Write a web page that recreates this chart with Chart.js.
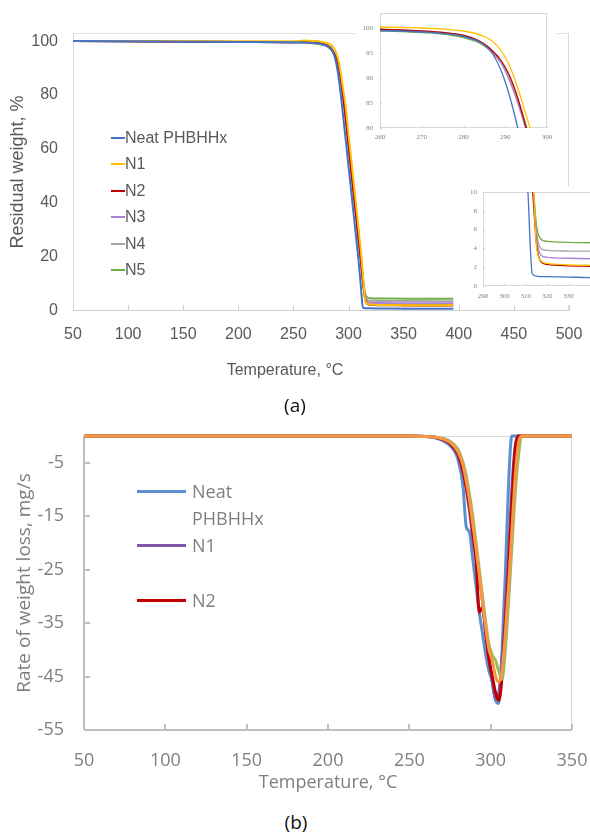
<!DOCTYPE html>
<html><head><meta charset="utf-8">
<script src="https://cdn.jsdelivr.net/npm/chart.js@4.4.1/dist/chart.umd.min.js"></script>
<style>
html,body{margin:0;padding:0;background:#fff;}
body{width:590px;height:835px;position:relative;overflow:hidden;}
canvas{position:absolute;}
.t{position:absolute;white-space:nowrap;transform:translate(-50%,-50%);}
</style></head><body>
<canvas id="cA" width="590" height="395" style="left:0px;top:0px"></canvas>
<canvas id="cI1" width="200" height="146" style="left:356px;top:0px"></canvas>
<canvas id="cI2" width="134" height="119" style="left:456px;top:186px"></canvas>
<canvas id="cB" width="590" height="380" style="left:0px;top:420px"></canvas>
<div id="legA"></div><div id="legB"></div>
<div class="t" style="left:285px;top:370px;font:16px 'Liberation Sans',Arial,sans-serif;color:#595959">Temperature, °C</div>
<div class="t" style="left:295px;top:405px;font:19px 'Open Sans',sans-serif;color:#111">(a)</div>
<div class="t" style="left:296px;top:822px;font:19px 'Open Sans',sans-serif;color:#111">(b)</div>
<script>
// ---------- (a) TGA data ----------
const tgaSeries = ['Neat PHBHHx','N1','N2','N3','N4','N5'];
const tgaTemp = [50,100,150,200,250,260,265,270,275,280,283,285,287,289,291,293,295,297,300,303,306,309,311,313,315,317,320,330,340,360,380,395];
const tgaNeat = [100,99.9,99.8,99.7,99.6,99.5,99.4,99.2,98.9,98.3,97.5,96.6,94.8,91.5,86.5,80.0,72.5,65.0,53.5,42.0,30.5,19.0,10.0,1.3,1.05,1.0,1.0,0.95,0.9,0.85,0.8,0.8];
const tgaN1   = [100,100,99.9,99.9,99.9,100.2,100.1,100.0,99.8,99.4,98.9,98.3,97.3,95.5,92.5,88.0,82.5,77.0,65.5,54.0,42.5,31.0,23.0,13.5,4.2,2.7,2.4,2.25,2.2,2.15,2.1,2.1];
const tgaN2   = [100,99.9,99.8,99.7,99.6,99.7,99.6,99.4,99.1,98.5,97.7,96.8,95.4,93.5,90.5,86.0,80.0,73.0,61.5,50.0,38.5,27.0,19.5,11.0,4.5,2.6,2.3,2.15,2.1,2.05,2.05,2.05];
const tgaN3   = [100,99.9,99.8,99.7,99.6,99.6,99.5,99.3,99.0,98.4,97.6,96.7,95.2,93.0,89.5,85.0,79.5,72.5,61.0,49.5,38.0,26.5,19.0,11.0,5.2,3.3,3.05,2.95,2.9,2.85,2.85,2.85];
const tgaN4   = [100,99.9,99.8,99.7,99.6,99.8,99.6,99.4,99.1,98.5,97.7,96.8,95.3,93.2,89.8,85.3,79.8,73.0,61.5,50.0,38.5,27.0,19.5,11.5,5.8,4.0,3.8,3.72,3.7,3.68,3.65,3.65];
const tgaN5   = [100,99.9,99.8,99.7,99.6,99.4,99.3,99.1,98.8,98.1,97.3,96.4,95.0,93.0,89.8,85.5,80.5,74.0,62.5,51.0,39.5,28.0,20.5,12.5,6.5,5.0,4.75,4.65,4.6,4.55,4.5,4.5];
const tgaXTicks = [50,100,150,200,250,300,350,400,450,500];
const tgaYTicks = [0,20,40,60,80,100];
const in1XTicks = [260,270,280,290,300];
const in1YTicks = [80,85,90,95,100];
const in2XTicks = [290,300,310,320,330];
const in2YTicks = [0,2,4,6,8,10];

// ---------- (b) DTG data ----------
const dtgSeries = ['Neat PHBHHx','N1','N2','N3','N4'];
const dtgTemp = [50,100,150,200,250,260,265,270,275,280,283,285,287,289,291,293,295,297,299,301,303,305,307,309,311,313,315,317,319,321,330,350];
const dtgNeat = [0,0,0,0,0,-0.1,-0.3,-0.8,-1.8,-4.5,-9.5,-17,-18,-23,-28,-33,-37,-41,-44,-46,-49.5,-50,-40,-26,-9,0,0,0,0,0,0,0];
const dtgN1   = [0,0,0,0,0,-0.1,-0.2,-0.6,-1.4,-3.5,-7,-10,-14,-19,-23,-26,-31,-37,-41,-46,-49,-48,-42,-33,-22,-10,-2,0,0,0,0,0];
const dtgN2   = [0,0,0,0,0,-0.1,-0.2,-0.6,-1.4,-3.5,-6.5,-9.5,-13,-18,-23,-33,-32,-37,-42,-45,-48,-49.5,-45,-35,-25,-13,-3,0,0,0,0,0];
const dtgN3   = [0,0,0,0,0,-0.1,-0.2,-0.4,-1.0,-2.5,-5,-7.5,-11,-15,-20,-25,-30,-35,-39,-41,-42,-44,-45.5,-40,-31,-21,-11,-4,0,0,0,0];
const dtgN4   = [0,0,0,0,0,-0.1,-0.2,-0.5,-1.2,-3,-5.5,-8.5,-12,-16.5,-21,-26,-31,-36,-40,-42,-45,-46,-44,-37,-28,-18,-8,-1.5,0,0,0,0];
const dtgXTicks = [50,100,150,200,250,300,350];
const dtgYTicks = [-55,-45,-35,-25,-15,-5];

const tgaColors = ['#4472C4','#FFC000','#C00000','#A983D6','#A5A5A5','#70AD47'];
const dtgColors = ['#5B8FD0','#7E57A8','#C00000','#9BBB59','#F79646'];
const tgaValues = [tgaNeat,tgaN1,tgaN2,tgaN3,tgaN4,tgaN5];
const dtgValues = [dtgNeat,dtgN1,dtgN2,dtgN3,dtgN4];

const pts = (xs, ys) => xs.map((x,i)=>({x:x, y:ys[i]}));
const setTicks = arr => (s => { s.ticks = arr.map(v=>({value:v})); });
const fitW = w => (s => { s.width = w; s.paddingTop = 0; s.paddingBottom = 0; s.paddingLeft = 0; s.paddingRight = 0; });
const fitH = h => (s => { s.height = h; s.paddingTop = 0; s.paddingBottom = 0; s.paddingLeft = 0; s.paddingRight = 0; });

// frame / inward ticks plugin
const frame = {
  id:'frame',
  beforeDraw(chart, a, o){
    if(o.bg){const c=chart.ctx;c.save();c.fillStyle=o.bg;c.fillRect(0,0,chart.width,chart.height);c.restore();}
  },
  beforeDatasetsDraw(chart, a, o){
    const c=chart.ctx, ca=chart.chartArea;
    c.save();
    const ln=(s,x1,y1,x2,y2)=>{if(!s)return;c.strokeStyle=s.color;c.lineWidth=s.width||1;c.beginPath();c.moveTo(x1,y1);c.lineTo(x2,y2);c.stroke();};
    const h=(s)=> (s && (s.width||1)%2===1)?0.5:0;
    const L=Math.round(ca.left), R=Math.round(ca.right), T=Math.round(ca.top), B=Math.round(ca.bottom);
    ln(o.top, L, T+h(o.top), R, T+h(o.top));
    ln(o.right, R-h(o.right), T, R-h(o.right), B);
    ln(o.left, L+h(o.left), T, L+h(o.left), B);
    ln(o.bottom, L, B-h(o.bottom), R, B-h(o.bottom));
    if(o.xTick){const sx=chart.scales.x;sx.ticks.forEach(t=>{const p=Math.round(sx.getPixelForValue(t.value))+h(o.xTick);ln(o.xTick,p,B,p,B-o.xTick.len);});}
    if(o.yTick){const sy=chart.scales.y;sy.ticks.forEach(t=>{const p=Math.round(sy.getPixelForValue(t.value))+h(o.yTick);ln(o.yTick,L,p,L+o.yTick.len,p);});}
    c.restore();
  }
};

const base = {responsive:false, animation:false, devicePixelRatio:1, events:[]};
const noGrid = {display:false, drawTicks:false};

// ----- Chart (a) main -----
new Chart(document.getElementById('cA'), {
  type:'line',
  data:{datasets: tgaSeries.map((n,i)=>({label:n, data:pts(tgaTemp,tgaValues[i]), borderColor:tgaColors[i], borderWidth:2, pointRadius:0, cubicInterpolationMode:'monotone'}))},
  options:Object.assign({}, base, {
    layout:{padding:{top:33,right:21,left:0,bottom:0}},
    plugins:{legend:{display:false}, tooltip:{enabled:false},
      frame:{bg:'#fff', top:{color:'#e0e0e0'}, right:{color:'#d9d9d9'}, left:{color:'#d9d9d9'}, bottom:{color:'#d0d0d0'}, xTick:{color:'#d0d0d0',len:6}}},
    scales:{
      x:{type:'linear', min:50, max:500, afterBuildTicks:setTicks(tgaXTicks), afterFit:fitH(84), grid:noGrid, border:{display:false},
         ticks:{color:'#595959', font:{family:"'Liberation Sans', Arial", size:16}, padding:14, autoSkip:false, maxRotation:0}},
      y:{type:'linear', min:0, max:103, afterBuildTicks:setTicks(tgaYTicks), afterFit:fitW(73), grid:noGrid, border:{display:false},
         ticks:{color:'#595959', font:{family:"'Liberation Sans', Arial", size:16}, padding:15},
         title:{display:true, text:'Residual weight, %', color:'#595959', font:{family:"'Liberation Sans', Arial", size:18}, padding:{top:7,bottom:0}}}
    }
  }),
  plugins:[frame]
});

// ----- inset 1 -----
const tinyFont = {family:"'Liberation Serif', serif", size:7};
new Chart(document.getElementById('cI1'), {
  type:'line',
  data:{datasets: tgaSeries.map((n,i)=>({label:n, data:pts(tgaTemp,tgaValues[i]), borderColor:tgaColors[i], borderWidth:1.3, pointRadius:0, cubicInterpolationMode:'monotone'}))},
  options:Object.assign({}, base, {
    layout:{padding:{top:13,right:9,left:0,bottom:0}},
    plugins:{legend:{display:false}, tooltip:{enabled:false},
      frame:{bg:'#fff', top:{color:'#d9d9d9'}, right:{color:'#d9d9d9'}, left:{color:'#d9d9d9'}, bottom:{color:'#d9d9d9'}, xTick:{color:'#d0d0d0',len:2}, yTick:{color:'#d0d0d0',len:2}}},
    scales:{
      x:{type:'linear', min:260, max:300, afterBuildTicks:setTicks(in1XTicks), afterFit:fitH(18), grid:noGrid, border:{display:false},
         ticks:{color:'#808080', font:tinyFont, padding:5, autoSkip:false, maxRotation:0}},
      y:{type:'linear', min:80, max:103, afterBuildTicks:setTicks(in1YTicks), afterFit:fitW(24), grid:noGrid, border:{display:false},
         ticks:{color:'#808080', font:tinyFont, padding:7}}
    }
  }),
  plugins:[frame]
});

// ----- inset 2 -----
new Chart(document.getElementById('cI2'), {
  type:'line',
  data:{datasets: tgaSeries.map((n,i)=>({label:n, data:pts(tgaTemp,tgaValues[i]), borderColor:tgaColors[i], borderWidth:1.3, pointRadius:0, cubicInterpolationMode:'monotone'}))},
  options:Object.assign({}, base, {
    layout:{padding:{top:6,right:0,left:0,bottom:0}},
    plugins:{legend:{display:false}, tooltip:{enabled:false},
      frame:{bg:'#fff', top:{color:'#d9d9d9'}, left:{color:'#d9d9d9'}, bottom:{color:'#d9d9d9'}, xTick:{color:'#d0d0d0',len:2}, yTick:{color:'#d0d0d0',len:2}}},
    scales:{
      x:{type:'linear', min:290, max:340, afterBuildTicks:setTicks(in2XTicks), afterFit:fitH(19), grid:noGrid, border:{display:false},
         ticks:{color:'#808080', font:tinyFont, padding:6, autoSkip:false, maxRotation:0}},
      y:{type:'linear', min:0, max:10, afterBuildTicks:setTicks(in2YTicks), afterFit:fitW(27), grid:noGrid, border:{display:false},
         ticks:{color:'#808080', font:tinyFont, padding:6}}
    }
  }),
  plugins:[frame]
});

// ----- Chart (b) -----
const bFont = {family:"'Open Sans', sans-serif", size:18};
new Chart(document.getElementById('cB'), {
  type:'line',
  data:{datasets: dtgSeries.map((n,i)=>({label:n, data:pts(dtgTemp,dtgValues[i]), borderColor:dtgColors[i], borderWidth:3, pointRadius:0, cubicInterpolationMode:'monotone', clip:false, order: dtgSeries.length - i}))},
  options:Object.assign({}, base, {
    layout:{padding:{top:16,right:18,left:0,bottom:0}},
    plugins:{legend:{display:false}, tooltip:{enabled:false},
      frame:{bg:'#fff', top:{color:'#d9d9d9'}, right:{color:'#d6d6c8'}, left:{color:'#bfbfbf',width:2}, bottom:{color:'#bfbfbf',width:2}, xTick:{color:'#bfbfbf',width:2,len:6}, yTick:{color:'#bfbfbf',width:2,len:6}}},
    scales:{
      x:{type:'linear', min:50, max:350, afterBuildTicks:setTicks(dtgXTicks), afterFit:fitH(70), grid:noGrid, border:{display:false},
         ticks:{color:'#7f7f7f', font:bFont, padding:20, autoSkip:false, maxRotation:0},
         title:{display:true, text:'Temperature, °C', color:'#7f7f7f', font:bFont, padding:{top:0,bottom:6}}},
      y:{type:'linear', min:-55, max:0, afterBuildTicks:setTicks(dtgYTicks), afterFit:fitW(84), grid:noGrid, border:{display:false},
         ticks:{color:'#7f7f7f', font:bFont, padding:20},
         title:{display:true, text:'Rate of weight loss, mg/s', color:'#7f7f7f', font:{family:"'Open Sans', sans-serif", size:19}, padding:{top:13,bottom:0}}}
    }
  }),
  plugins:[frame]
});

// ----- HTML legends -----
const legA = document.getElementById('legA');
tgaSeries.forEach((name,i)=>{
  const row = document.createElement('div');
  row.style.cssText = 'position:absolute;left:111px;top:'+(128+i*26.4)+'px;height:20px;display:flex;align-items:center;font:16px "Liberation Sans",Arial,sans-serif;color:#595959;white-space:nowrap;';
  row.innerHTML = '<span style="display:inline-block;width:14px;height:2px;background:'+tgaColors[i]+'"></span><span>'+name+'</span>';
  legA.appendChild(row);
});
const legB = document.getElementById('legB');
dtgSeries.slice(0,3).forEach((name,i)=>{
  const y = 491 + i*54.5;
  const ln = document.createElement('div');
  ln.style.cssText = 'position:absolute;left:137px;width:49px;height:3px;top:'+(y-1.5)+'px;background:'+dtgColors[i]+';';
  legB.appendChild(ln);
  const tx = document.createElement('div');
  tx.style.cssText = 'position:absolute;left:192px;width:90px;top:'+(y-13.5)+'px;font:18px "Open Sans",sans-serif;line-height:27px;color:#7f7f7f;';
  tx.textContent = name;
  legB.appendChild(tx);
});
</script>
</body></html>
